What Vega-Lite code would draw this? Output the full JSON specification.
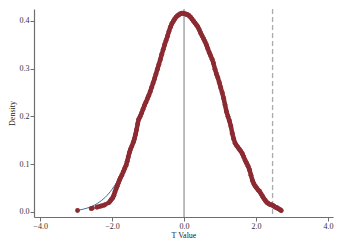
{
  "$schema": "https://vega.github.io/schema/vega-lite/v6.json",
  "width": 299,
  "height": 208,
  "autosize": {"type": "none"},
  "padding": {"left": 34, "top": 9, "right": 9, "bottom": 31},
  "background": "white",
  "config": {
    "view": {"stroke": null},
    "font": "Liberation Serif",
    "axis": {
      "grid": false,
      "domainColor": "#6e6e6e",
      "domainWidth": 1.2,
      "tickColor": "#6e6e6e",
      "tickSize": 4,
      "labelFont": "Liberation Serif",
      "labelFontSize": 8,
      "labelColor": "#333333",
      "titleFont": "Liberation Serif",
      "titleFontSize": 8,
      "titleFontWeight": "normal",
      "titleColor": "#222222",
      "labelPadding": 1
    }
  },
  "datasets": {
    "vlines": [{"x": 0, "kind": "zero"}],
    "dline": [{"x": 2.46}],
    "normal": [
      {"t": -2.96, "d": 0.0036}, {"t": -2.9, "d": 0.0043}, {"t": -2.8, "d": 0.0059}, {"t": -2.7, "d": 0.008},
      {"t": -2.6, "d": 0.0106}, {"t": -2.5, "d": 0.014}, {"t": -2.4, "d": 0.0183}, {"t": -2.3, "d": 0.0236},
      {"t": -2.2, "d": 0.0301}, {"t": -2.1, "d": 0.038}, {"t": -2.0, "d": 0.0475}, {"t": -1.9, "d": 0.0586},
      {"t": -1.8, "d": 0.068}, {"t": -1.7, "d": 0.082}, {"t": -1.6, "d": 0.1}, {"t": -1.5, "d": 0.129},
      {"t": -1.4, "d": 0.148}, {"t": -1.3, "d": 0.178}, {"t": -1.2, "d": 0.203}, {"t": -1.1, "d": 0.226},
      {"t": -1.0, "d": 0.24}, {"t": -0.9, "d": 0.261}, {"t": -0.8, "d": 0.284}, {"t": -0.7, "d": 0.309},
      {"t": -0.6, "d": 0.335}, {"t": -0.5, "d": 0.359}, {"t": -0.4, "d": 0.382}, {"t": -0.3, "d": 0.399},
      {"t": -0.2, "d": 0.41}, {"t": -0.1, "d": 0.415}, {"t": 0.0, "d": 0.4155}, {"t": 0.1, "d": 0.413},
      {"t": 0.2, "d": 0.406}, {"t": 0.3, "d": 0.396}, {"t": 0.4, "d": 0.385}, {"t": 0.5, "d": 0.369},
      {"t": 0.6, "d": 0.353}, {"t": 0.7, "d": 0.334}, {"t": 0.8, "d": 0.315}, {"t": 0.9, "d": 0.289},
      {"t": 1.0, "d": 0.265}, {"t": 1.1, "d": 0.238}, {"t": 1.2, "d": 0.205}, {"t": 1.3, "d": 0.18},
      {"t": 1.4, "d": 0.148}, {"t": 1.5, "d": 0.134}, {"t": 1.6, "d": 0.122}, {"t": 1.7, "d": 0.104},
      {"t": 1.8, "d": 0.084}, {"t": 1.9, "d": 0.062}, {"t": 2.0, "d": 0.0475}, {"t": 2.1, "d": 0.038},
      {"t": 2.2, "d": 0.0301}, {"t": 2.3, "d": 0.0236}, {"t": 2.4, "d": 0.0183}, {"t": 2.5, "d": 0.014},
      {"t": 2.6, "d": 0.0106}, {"t": 2.72, "d": 0.0076}
    ],
    "kde": [
      {"t": -2.96, "d": 0.003}, {"t": -2.58, "d": 0.007}, {"t": -2.55, "d": 0.008}, {"t": -2.42, "d": 0.01},
      {"t": -2.38, "d": 0.011}, {"t": -2.32, "d": 0.012}, {"t": -2.28, "d": 0.013}, {"t": -2.22, "d": 0.014},
      {"t": -2.18, "d": 0.016}, {"t": -2.1, "d": 0.019}, {"t": -2.06, "d": 0.022}, {"t": -2.02, "d": 0.026},
      {"t": -1.98, "d": 0.03}, {"t": -1.95, "d": 0.035}, {"t": -1.92, "d": 0.042}, {"t": -1.89, "d": 0.048},
      {"t": -1.86, "d": 0.054}, {"t": -1.83, "d": 0.06}, {"t": -1.8, "d": 0.066}, {"t": -1.77, "d": 0.071},
      {"t": -1.73, "d": 0.077}, {"t": -1.69, "d": 0.084}, {"t": -1.65, "d": 0.091}, {"t": -1.61, "d": 0.098},
      {"t": -1.58, "d": 0.106}, {"t": -1.55, "d": 0.115}, {"t": -1.52, "d": 0.124}, {"t": -1.49, "d": 0.131},
      {"t": -1.45, "d": 0.138}, {"t": -1.41, "d": 0.146}, {"t": -1.38, "d": 0.153}, {"t": -1.35, "d": 0.162},
      {"t": -1.32, "d": 0.172}, {"t": -1.29, "d": 0.184}, {"t": -1.26, "d": 0.194}, {"t": -1.22, "d": 0.2},
      {"t": -1.18, "d": 0.207}, {"t": -1.14, "d": 0.215}, {"t": -1.1, "d": 0.223}, {"t": -1.06, "d": 0.23},
      {"t": -1.02, "d": 0.237}, {"t": -0.98, "d": 0.244}, {"t": -0.94, "d": 0.252}, {"t": -0.9, "d": 0.261},
      {"t": -0.86, "d": 0.27}, {"t": -0.82, "d": 0.279}, {"t": -0.78, "d": 0.289}, {"t": -0.74, "d": 0.299},
      {"t": -0.7, "d": 0.309}, {"t": -0.66, "d": 0.319}, {"t": -0.62, "d": 0.33}, {"t": -0.58, "d": 0.34},
      {"t": -0.54, "d": 0.35}, {"t": -0.5, "d": 0.359}, {"t": -0.46, "d": 0.368}, {"t": -0.42, "d": 0.378},
      {"t": -0.38, "d": 0.387}, {"t": -0.34, "d": 0.394}, {"t": -0.3, "d": 0.399}, {"t": -0.26, "d": 0.404},
      {"t": -0.22, "d": 0.408}, {"t": -0.18, "d": 0.411}, {"t": -0.14, "d": 0.413}, {"t": -0.1, "d": 0.415},
      {"t": -0.06, "d": 0.416}, {"t": -0.02, "d": 0.416}, {"t": 0.02, "d": 0.415}, {"t": 0.06, "d": 0.414},
      {"t": 0.1, "d": 0.413}, {"t": 0.14, "d": 0.411}, {"t": 0.18, "d": 0.408}, {"t": 0.22, "d": 0.404},
      {"t": 0.26, "d": 0.4}, {"t": 0.3, "d": 0.396}, {"t": 0.34, "d": 0.392}, {"t": 0.38, "d": 0.388},
      {"t": 0.42, "d": 0.382}, {"t": 0.46, "d": 0.375}, {"t": 0.5, "d": 0.369}, {"t": 0.54, "d": 0.363},
      {"t": 0.58, "d": 0.357}, {"t": 0.62, "d": 0.35}, {"t": 0.66, "d": 0.342}, {"t": 0.7, "d": 0.334},
      {"t": 0.74, "d": 0.327}, {"t": 0.78, "d": 0.32}, {"t": 0.82, "d": 0.311}, {"t": 0.86, "d": 0.299},
      {"t": 0.9, "d": 0.289}, {"t": 0.94, "d": 0.281}, {"t": 0.98, "d": 0.271}, {"t": 1.02, "d": 0.26},
      {"t": 1.06, "d": 0.25}, {"t": 1.1, "d": 0.238}, {"t": 1.14, "d": 0.224}, {"t": 1.18, "d": 0.21},
      {"t": 1.22, "d": 0.2}, {"t": 1.26, "d": 0.191}, {"t": 1.3, "d": 0.18}, {"t": 1.34, "d": 0.165},
      {"t": 1.38, "d": 0.153}, {"t": 1.42, "d": 0.144}, {"t": 1.46, "d": 0.139}, {"t": 1.5, "d": 0.135},
      {"t": 1.54, "d": 0.131}, {"t": 1.58, "d": 0.127}, {"t": 1.62, "d": 0.122}, {"t": 1.66, "d": 0.115},
      {"t": 1.7, "d": 0.108}, {"t": 1.74, "d": 0.102}, {"t": 1.78, "d": 0.096}, {"t": 1.82, "d": 0.088},
      {"t": 1.86, "d": 0.077}, {"t": 1.9, "d": 0.066}, {"t": 1.94, "d": 0.059}, {"t": 1.98, "d": 0.054},
      {"t": 2.02, "d": 0.05}, {"t": 2.06, "d": 0.046}, {"t": 2.1, "d": 0.043}, {"t": 2.14, "d": 0.038},
      {"t": 2.18, "d": 0.033}, {"t": 2.22, "d": 0.028}, {"t": 2.26, "d": 0.024}, {"t": 2.3, "d": 0.02},
      {"t": 2.34, "d": 0.018}, {"t": 2.38, "d": 0.016}, {"t": 2.42, "d": 0.015}, {"t": 2.46, "d": 0.014},
      {"t": 2.5, "d": 0.012}, {"t": 2.54, "d": 0.01}, {"t": 2.58, "d": 0.009}, {"t": 2.62, "d": 0.007},
      {"t": 2.66, "d": 0.005}, {"t": 2.7, "d": 0.003}
    ]
  },
  "layer": [
    {
      "data": {"name": "vlines"},
      "mark": {"type": "rule", "color": "#a6a6a6", "strokeWidth": 1.5},
      "encoding": {
        "x": {"field": "x", "type": "quantitative", "scale": {"domain": [-4.17, 4.14], "nice": false, "zero": false}}
      }
    },
    {
      "data": {"name": "dline"},
      "mark": {"type": "rule", "color": "#aaaaaa", "strokeWidth": 1.3, "strokeDash": [5, 3]},
      "encoding": {
        "x": {"field": "x", "type": "quantitative"}
      }
    },
    {
      "data": {"name": "normal"},
      "mark": {"type": "line", "color": "#3a6f9e", "strokeWidth": 1, "interpolate": "monotone"},
      "encoding": {
        "x": {"field": "t", "type": "quantitative"},
        "y": {"field": "d", "type": "quantitative"}
      }
    },
    {
      "data": {"name": "kde"},
      "transform": [{"filter": "datum.t >= -2.06"}],
      "mark": {"type": "line", "color": "#8c2a32", "strokeWidth": 4.5, "strokeJoin": "round", "strokeCap": "round"},
      "encoding": {
        "x": {"field": "t", "type": "quantitative"},
        "y": {"field": "d", "type": "quantitative"}
      }
    },
    {
      "data": {"name": "kde"},
      "mark": {"type": "point", "filled": true, "color": "#8c2a32", "size": 24, "opacity": 1},
      "encoding": {
        "x": {
          "field": "t", "type": "quantitative",
          "scale": {"domain": [-4.17, 4.14], "nice": false, "zero": false},
          "axis": {"values": [-4, -2, 0, 2, 4], "format": ".1f", "title": "T Value", "titlePadding": 1}
        },
        "y": {
          "field": "d", "type": "quantitative",
          "scale": {"domain": [-0.0105, 0.425], "nice": false, "zero": false},
          "axis": {"values": [0, 0.1, 0.2, 0.3, 0.4], "format": ".1f", "title": "Density", "titlePadding": 3}
        }
      }
    }
  ]
}
